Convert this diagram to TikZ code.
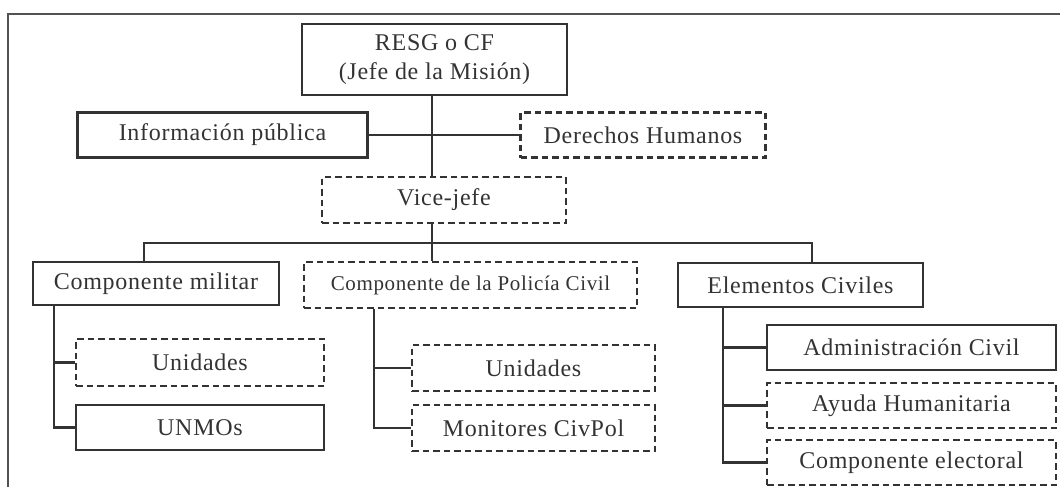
\documentclass[tikz,border=0pt]{standalone}
\usepackage{fontspec}
\setmainfont[LetterSpace=3]{Liberation Serif}
\usepackage{tikz}
\definecolor{ink}{HTML}{333333}
\tikzstyle{unit}=[draw=ink, line width=2.2pt, inner sep=0pt, text=ink, font=\fontsize{24}{29}\selectfont, align=center, minimum height=45pt]
\tikzstyle{dunit}=[unit, dash pattern=on 6.5pt off 4pt]
\tikzstyle{link}=[draw=ink, line width=2.2pt]

\begin{document}
\begin{tikzpicture}[x=1pt, y=-1pt]
        \useasboundingbox (0, 0) rectangle (1060, 487);
        \coordinate (F0) at (8, 487);
        \coordinate (F1) at (8, 14);
        \coordinate (F2) at (1060, 14);
        \draw[link, line width=2.6pt, draw=ink!85] (F0) -- (F1) -- (F2);
        \node[unit, minimum width=265pt, minimum height=71pt] (RESG) at (434.5, 59.5) {RESG o CF\\(Jefe de la Misión)};
        \node[unit, minimum width=290pt] (Info) at (222.5, 135) {Información pública};
        \node[dunit, minimum width=245pt] (DH) at (643, 135) {Derechos Humanos};
        \node[dunit, minimum width=244pt, minimum height=46pt] (Vice) at (444, 200) {Vice-jefe};
        \node[unit, minimum width=246pt, minimum height=43pt] (Mil) at (156, 283.5) {Componente militar};
        \node[dunit, minimum width=333pt, minimum height=46pt, font=\fontsize{21}{28}\selectfont] (Pol) at (470.5, 285) {Componente de la Policía Civil};
        \node[unit, minimum width=245pt, minimum height=44pt] (Civ) at (800.5, 285) {Elementos Civiles};
        \node[dunit, minimum width=248pt, minimum height=47pt] (MUnid) at (200, 362.5) {Unidades};
        \node[unit, minimum width=248pt] (UNMOs) at (200, 427.5) {UNMOs};
        \node[dunit, minimum width=243pt, minimum height=46pt] (PUnid) at (533.5, 368) {Unidades};
        \node[dunit, minimum width=243pt, minimum height=46pt] (Monit) at (533.5, 428) {Monitores CivPol};
        \node[unit, minimum width=289pt] (Admin) at (911.5, 347.5) {Administración Civil};
        \node[dunit, minimum width=289pt] (Ayuda) at (911.5, 405.5) {Ayuda Humanitaria};
        \node[dunit, minimum width=289pt] (Elect) at (911.5, 462.5) {Componente electoral};
        \coordinate (S) at (432, 243);
        \coordinate (Bl) at (144, 243);
        \coordinate (Br) at (812, 243);
        \coordinate (Mt) at (54, 0);
        \coordinate (Pt) at (374, 0);
        \coordinate (Ct) at (723, 0);
        \draw[link] (RESG.south -| S) -- (Vice.north -| S);
        \draw[link] (Info.east) -- (DH.west);
        \draw[link] (Vice.south -| S) -- (Pol.north -| S);
        \draw[link] (Mil.north -| Bl) -- (Bl) -- (Br) -- (Civ.north -| Br);
        \draw[link] (Mil.south -| Mt) -- (UNMOs.west -| Mt) -- (UNMOs.west);
        \draw[link] (MUnid.west -| Mt) -- (MUnid.west);
        \draw[link] (Pol.south -| Pt) -- (Monit.west -| Pt) -- (Monit.west);
        \draw[link] (PUnid.west -| Pt) -- (PUnid.west);
        \draw[link] (Civ.south -| Ct) -- (Elect.west -| Ct) -- (Elect.west);
        \draw[link] (Admin.west -| Ct) -- (Admin.west);
        \draw[link] (Ayuda.west -| Ct) -- (Ayuda.west);
\end{tikzpicture}
\end{document}
